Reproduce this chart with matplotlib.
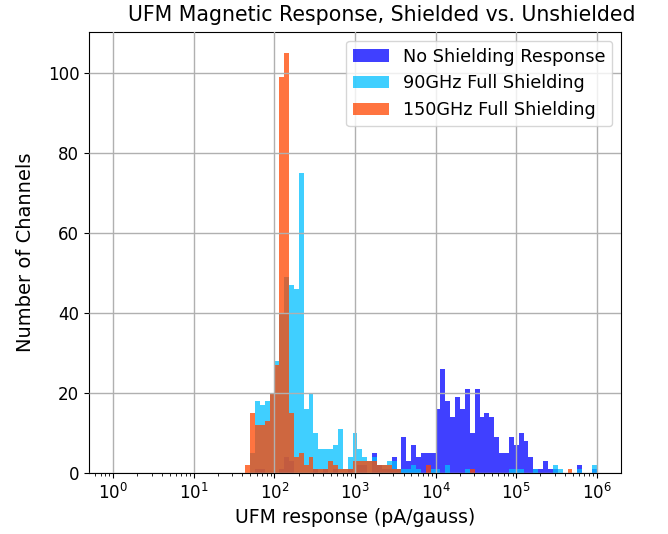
import numpy as np
import matplotlib
matplotlib.use("Agg")
import matplotlib.pyplot as plt

# log-spaced histogram bins: 10^0 .. 10^6, 100 edges
bin_edges = np.logspace(0, 6, 100)

# No shielding: (bin index, channel count)
no_shield_bins = [29, 30, 34, 35, 36, 41, 43, 45, 48, 50, 51, 53, 54, 55, 56, 57, 58,
                  59, 60, 61, 62, 63, 64, 65, 66, 67, 68, 69, 70, 71, 72, 73, 74, 75,
                  76, 77, 78, 79, 80, 81, 82, 83, 84, 85, 86, 87, 88, 89, 90, 95, 98]
no_shield_counts = [1, 1, 1, 4, 3, 1, 1, 1, 1, 2, 2, 5, 2, 1, 1, 4, 1,
                    9, 3, 7, 4, 5, 5, 5, 16, 26, 18, 14, 19, 16, 21, 10, 21, 14,
                    15, 14, 9, 5, 5, 9, 7, 10, 8, 4, 1, 1, 3, 1, 1, 2, 1]

# 90 GHz full shielding
ghz90_bins = [28, 29, 30, 31, 32, 33, 34, 35, 36, 37, 38, 39, 40, 41, 42, 43, 44, 45,
              46, 47, 48, 49, 50, 51, 52, 53, 54, 55, 56, 57, 58, 59, 60, 61, 62, 65,
              66, 68, 72, 81, 82, 83, 86, 90, 91, 95, 98]
ghz90_counts = [5, 18, 17, 18, 20, 28, 40, 49, 47, 46, 75, 16, 20, 10, 6, 6, 6, 7,
                11, 1, 4, 10, 6, 4, 3, 4, 2, 2, 3, 3, 1, 1, 1, 2, 1, 1,
                1, 2, 1, 1, 1, 1, 1, 2, 1, 1, 2]

# 150 GHz full shielding
ghz150_bins = [27, 28, 29, 30, 31, 32, 33, 34, 35, 36, 37, 38, 39, 40, 41, 42, 43, 44,
               45, 46, 47, 48, 49, 50, 51, 52, 53, 54, 55, 56, 57, 58, 64, 73, 93]
ghz150_counts = [2, 15, 12, 12, 13, 20, 27, 99, 105, 15, 4, 5, 2, 4, 1, 1, 1, 3,
                 2, 1, 1, 1, 3, 3, 3, 3, 3, 2, 2, 2, 1, 1, 2, 1, 1]

labels = ["No Shielding Response", "90GHz Full Shielding", "150GHz Full Shielding"]
colors = ["blue", "deepskyblue", "orangered"]

centers = np.sqrt(bin_edges[:-1] * bin_edges[1:])

def weights_for(idx, cnt):
    w = np.zeros(len(centers))
    w[np.array(idx)] = cnt
    return w

series = [(no_shield_bins, no_shield_counts),
          (ghz90_bins, ghz90_counts),
          (ghz150_bins, ghz150_counts)]

fig = plt.figure(figsize=(6.68, 5.34), dpi=100)
ax = fig.add_axes([89 / 668, 1 - 472.7 / 534, (621 - 89) / 668, (472.7 - 31.7) / 534])

for (idx, cnt), lab, col in zip(series, labels, colors):
    ax.hist(centers, bins=bin_edges, weights=weights_for(idx, cnt),
            color=col, alpha=0.75, label=lab)

ax.set_xscale("log")
ax.set_xticks([1e0, 1e1, 1e2, 1e3, 1e4, 1e5, 1e6])
ax.set_yticks([0, 20, 40, 60, 80, 100])
ax.tick_params(labelsize=12)
ax.grid(True, color="#b0b0b0", linewidth=1)
ax.set_axisbelow(False)

ax.set_xlabel("UFM response (pA/gauss)", fontsize=13.6)
ax.set_ylabel("Number of Channels", fontsize=14, labelpad=9)
ax.set_title("UFM Magnetic Response, Shielded vs. Unshielded", fontsize=14.8, x=0.551, pad=7.5)
ax.legend(loc="upper right", fontsize=12.7)

fig.savefig("out.png", dpi=100)
